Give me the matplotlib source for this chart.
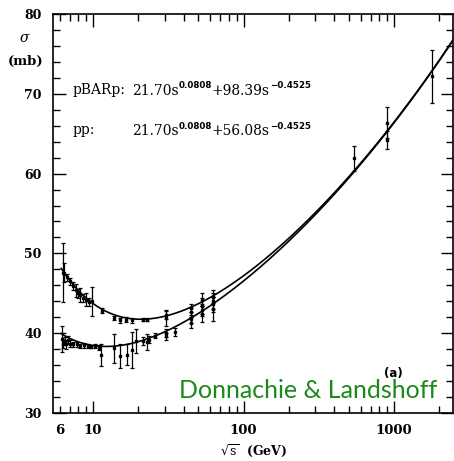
import numpy as np
import matplotlib
matplotlib.use("Agg")
import matplotlib.pyplot as plt
from matplotlib.ticker import FixedLocator, NullFormatter

# fit parameters
A_COEF = 21.70
EPS = 0.0808
ETA = 0.4525
B_PBARP = 98.39
B_PP = 56.08

# pbar-p data: sqrt(s) [GeV], sigma [mb], error
pbar_rs = [6.3, 6.4, 6.7, 7.0, 7.4, 7.7, 7.9, 8.2, 8.6, 9.0, 9.4, 9.8, 11.5, 13.8, 15.1,
           16.6, 18.1, 21.4, 22.7, 30.5, 30.6, 44.7, 44.8, 52.7, 52.8, 62.4, 62.7,
           546, 900, 900, 1800]
pbar_sig = [47.6, 47.6, 47.0, 46.5, 45.9, 45.4, 45.0, 44.8, 44.4, 44.2, 43.9, 44.0, 42.8, 41.9, 41.6,
            41.7, 41.6, 41.7, 41.7, 41.9, 42.3, 42.6, 43.2, 43.4, 44.2, 44.0, 44.6,
            61.9, 66.4, 64.2, 72.2]
pbar_err = [3.7, 1.2, 0.4, 0.4, 0.5, 0.8, 0.6, 0.9, 0.5, 0.8, 0.5, 1.8, 0.3, 0.3, 0.3,
            0.3, 0.3, 0.2, 0.2, 1.0, 0.5, 0.6, 0.5, 1.0, 0.8, 1.0, 0.8,
            1.6, 1.9, 1.1, 3.3]

# p-p data
pp_rs = [6.2, 6.3, 6.5, 6.6, 6.8, 7.0, 7.4, 7.8, 8.2, 8.7, 9.2, 9.7, 10.3, 11.0, 11.3,
         13.8, 15.1, 16.8, 18.1, 19.4, 21.4, 23.0, 23.5, 26.0, 30.5, 30.7, 35.0,
         44.7, 44.8, 52.7, 52.9, 62.4, 62.6]
pp_sig = [39.3, 38.7, 39.0, 38.6, 39.2, 38.7, 38.6, 38.6, 38.4, 38.5, 38.4, 38.3, 38.4, 38.2, 37.3,
          38.1, 37.2, 37.3, 37.9, 39.0, 39.0, 38.9, 39.2, 39.7, 40.0, 39.6, 40.1,
          41.3, 41.8, 42.4, 42.9, 43.0, 43.6]
pp_err = [1.6, 0.6, 0.5, 0.6, 0.5, 0.4, 0.3, 0.3, 0.3, 0.3, 0.2, 0.2, 0.2, 0.3, 1.4,
          1.8, 1.5, 1.3, 2.2, 1.5, 0.5, 1.0, 0.4, 0.3, 0.5, 0.4, 0.5,
          0.7, 0.5, 1.0, 0.8, 1.5, 1.0]

xtick_vals = [6, 10, 100, 1000]
xtick_labels = ["6", "10", "100", "1000"]

plt.rcParams['font.family'] = 'DejaVu Serif'
plt.rcParams['mathtext.fontset'] = 'dejavuserif'

fig = plt.figure(figsize=(4.54, 4.61), dpi=100)
ax = fig.add_axes([0.1167, 0.1041, 0.882, 0.8655])

# fitted curves
rs = np.logspace(np.log10(6.15), np.log10(2600), 400)
s = rs ** 2
ax.plot(rs, A_COEF * s ** EPS + B_PBARP * s ** (-ETA), color='black', lw=1.2)
ax.plot(rs, A_COEF * s ** EPS + B_PP * s ** (-ETA), color='black', lw=1.2)

# data
for xs, ys, es in [(pbar_rs, pbar_sig, pbar_err), (pp_rs, pp_sig, pp_err)]:
    ax.errorbar(xs, ys, yerr=es, fmt='s', color='black', ms=1.6, lw=0.9,
                capsize=1.6, capthick=0.9, elinewidth=0.9)

ax.set_xscale('log')
ax.set_xlim(5.42, 2480)
ax.set_ylim(30, 80)

ax.xaxis.set_major_locator(FixedLocator([10, 100, 1000]))
ax.xaxis.set_major_formatter(NullFormatter())
minors = [m * 10 ** k for k in range(0, 4) for m in range(2, 10)]
ax.xaxis.set_minor_locator(FixedLocator(minors))
ax.xaxis.set_minor_formatter(NullFormatter())
ax.set_yticks([30, 40, 50, 60, 70, 80])
ax.set_yticks(np.arange(30, 81, 2), minor=True)
ax.tick_params(which='both', direction='in', top=True, right=True, width=1.0)
ax.tick_params(which='major', length=9)
ax.tick_params(which='minor', length=5)
ax.tick_params(axis='y', labelsize=9, pad=8)
for lab in ax.get_yticklabels():
    lab.set_fontweight('bold')
for sp in ax.spines.values():
    sp.set_linewidth(1.2)

# x tick labels as text (6 is not a major tick)
for v, t in zip(xtick_vals, xtick_labels):
    ax.text(v, -0.028, t, transform=ax.get_xaxis_transform(), ha='center', va='top',
            fontsize=9.5, fontweight='bold')

ax.text(0.5, -0.093, r"$\sqrt{\mathrm{s}}$  (GeV)", transform=ax.transAxes,
        ha='center', va='center', fontsize=9, fontweight='bold')

fig.text(0.055, 0.918, r"$\sigma$", ha='center', va='center', fontsize=10,
         fontweight='bold', style='italic')
fig.text(0.057, 0.866, "(mb)", ha='center', va='center', fontsize=9.5, fontweight='bold')


def formula(y, coef):
    # serif body with small sans superscripts, each piece placed after the previous one
    parts = [("21.70s", False), ("0.0808", True), ("+" + coef + "s", False), ("\u22120.4525", True)]
    prev = ax.text(0.1965, y, parts[0][0], transform=ax.transAxes, va='baseline', fontsize=10)
    for txt, sup in parts[1:]:
        if sup:
            prev = ax.annotate(txt, xy=(1, y + 0.017), xycoords=(prev, 'axes fraction'),
                               va='baseline', ha='left', fontsize=6.3,
                               family='DejaVu Sans', fontweight='bold')
        else:
            prev = ax.annotate(txt, xy=(1, y), xycoords=(prev, 'axes fraction'),
                               va='baseline', ha='left', fontsize=10)


ax.text(0.05, 0.81, "pBARp:", transform=ax.transAxes, va='center', fontsize=10)
ax.text(0.05, 0.709, "pp:", transform=ax.transAxes, va='center', fontsize=10)
formula(0.797, "98.39")
formula(0.696, "56.08")

ax.text(0.851, 0.098, "(a)", transform=ax.transAxes, ha='center', va='center',
        fontsize=8.5, fontweight='bold', family='DejaVu Sans')
ax.text(0.959, 0.037, "Donnachie & Landshoff", transform=ax.transAxes, ha='right',
        va='baseline', fontsize=18, color='#1b8a1b', family='Lato')

fig.savefig("out.png", dpi=100)
